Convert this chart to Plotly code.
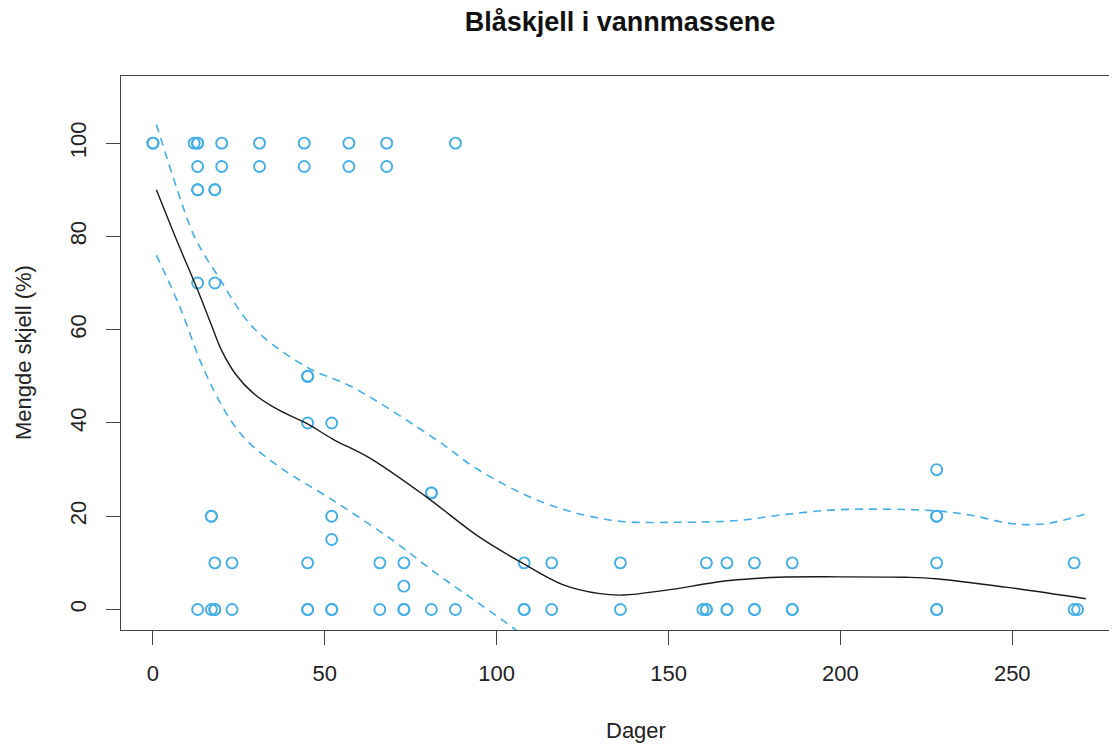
import plotly.graph_objects as go

# ---- data ----
days = [0, 0, 12, 13, 13, 20, 31, 44, 57, 68, 88,           # 100 %
        13, 20, 31, 44, 57, 68,                              # 95 %
        13, 13, 18, 18,                                      # 90 %
        13, 18,                                              # 70 %
        45, 45,                                              # 50 %
        45, 52,                                              # 40 %
        228,                                                 # 30 %
        81, 81,                                              # 25 %
        17, 17, 52, 228, 228,                                # 20 %
        52,                                                  # 15 %
        18, 23, 45, 66, 73, 108, 116, 136, 161, 167, 175, 186, 228, 268,  # 10 %
        73,                                                  # 5 %
        13, 17, 18, 18, 23, 45, 45, 52, 52, 66, 73, 73, 81, 88,
        108, 108, 116, 136, 160, 161, 161, 167, 167, 175, 175, 186, 186,
        228, 228, 268, 269]                                  # 0 %
mengde = ([100] * 11 + [95] * 6 + [90] * 4 + [70] * 2 + [50] * 2 + [40] * 2 +
          [30] * 1 + [25] * 2 + [20] * 5 + [15] * 1 + [10] * 14 + [5] * 1 + [0] * 31)

fit_x = [1, 7, 13, 17, 20, 24, 29, 36, 44.7, 52.4, 63, 79.6, 95, 107.6, 119,
         130, 137, 149, 167.7, 182, 199.7, 219, 227.8, 248, 271.4]
fit_y = [90, 79, 68.5, 61, 55.5, 50.5, 46.5, 43, 39.9, 36.5, 32.5, 24.1, 15.5, 9.9, 5.4,
         3.4, 3.1, 4.1, 6.2, 6.9, 7.0, 6.9, 6.6, 4.8, 2.3]

upper_x = [1, 11.6, 15, 18.5, 29, 44.7, 58, 82.6, 95, 114.4, 133.8, 153, 170.6, 182,
           199.7, 226.7, 238, 250, 259.8, 271.4]
upper_y = [104, 80.7, 76, 72, 60.6, 52, 47.7, 36.3, 29.8, 22.7, 19.1, 18.7, 19.1, 20.2,
           21.4, 21.2, 20.2, 18.4, 18.4, 20.5]

lower_x = [1, 7.8, 14.5, 21.4, 27.2, 36.9, 52.4, 69.8, 82.5, 95, 105.7, 110]
lower_y = [76, 64.9, 52, 42, 36.3, 30.5, 23.4, 14.8, 7.7, 1.2, -4.5, -7.5]

x_ticks = [0, 50, 100, 150, 200, 250]
y_ticks = [0, 20, 40, 60, 80, 100]

blue = "#44AEE6"
font_family = "Liberation Sans, Arial, Helvetica, sans-serif"

# the page body adds an 8px margin, so the figure is shifted 8px right/down
W, H = 1117, 736
L, T, B = 113, 68, 113.5
plot_w = W - L
plot_h = H - T - B

fig = go.Figure()
fig.add_trace(go.Scatter(x=days, y=mengde, mode="markers",
                         marker=dict(symbol="circle-open", size=11, color=blue,
                                     line=dict(width=1.9, color=blue)),
                         cliponaxis=False))
fig.add_trace(go.Scatter(x=fit_x, y=fit_y, mode="lines", line_shape="spline",
                         line=dict(color="#1a1a1a", width=1.4)))
fig.add_trace(go.Scatter(x=upper_x, y=upper_y, mode="lines", line_shape="spline",
                         line=dict(color=blue, width=1.6, dash="8px,6px")))
fig.add_trace(go.Scatter(x=lower_x, y=lower_y, mode="lines", line_shape="spline",
                         line=dict(color=blue, width=1.6, dash="8px,6px")))

axis_common = dict(showgrid=False, zeroline=False, showline=True, linecolor="#444",
                   linewidth=1.3, ticks="outside", ticklen=14, tickwidth=1.3,
                   tickcolor="#444", tickfont=dict(size=22, color="#222", family=font_family))

fig.update_xaxes(range=[-9.3, 282.8], tickvals=x_ticks, mirror=True,
                 ticklabelstandoff=9, **axis_common)
fig.update_yaxes(range=[-4.4, 114.4], tickvals=y_ticks, tickangle=-90, mirror=False,
                 ticklabelstandoff=11, **axis_common)

fig.update_layout(
    width=W, height=H,
    margin=dict(l=L, r=0, t=T, b=B),
    plot_bgcolor="white", paper_bgcolor="white",
    showlegend=False,
    font=dict(family=font_family, color="#111"),
    title=dict(text="<b>Blåskjell i vannmassene</b>", x=(620 - 8 - L) / plot_w, xref="paper",
               y=1 - 14 / H, yref="container", yanchor="middle", xanchor="center",
               font=dict(size=27, color="#111", family=font_family)),
    annotations=[
        dict(text="Dager", xref="paper", yref="paper", x=(636 - 8 - L) / plot_w,
             y=-100.5 / plot_h, xanchor="center", yanchor="middle", showarrow=False,
             font=dict(size=22, color="#222", family=font_family)),
        dict(text="Mengde skjell (%)", xref="paper", yref="paper", x=-98 / plot_w, y=0.5,
             xanchor="center", yanchor="middle", textangle=-90, showarrow=False,
             font=dict(size=22, color="#222", family=font_family)),
    ],
)

fig.write_html("out.html")
